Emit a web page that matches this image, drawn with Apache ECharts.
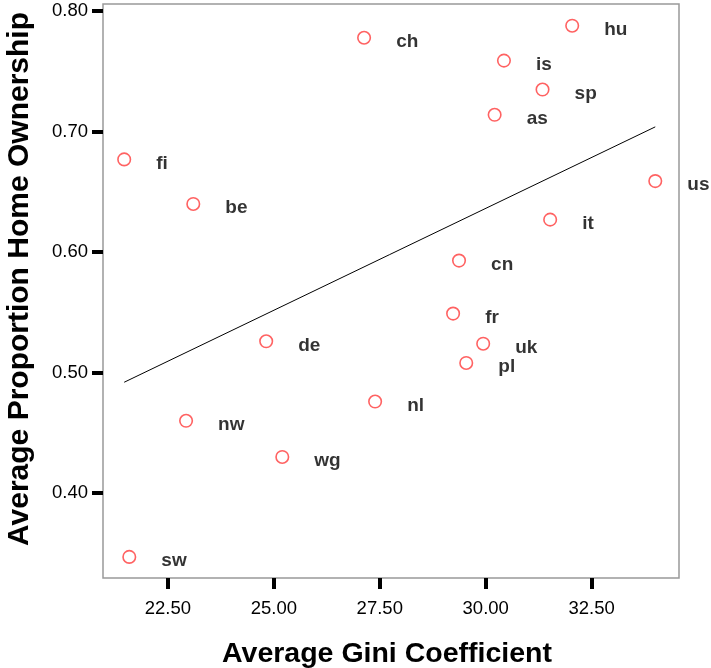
<!DOCTYPE html>
<html>
<head>
<meta charset="utf-8">
<script src="https://cdn.jsdelivr.net/npm/echarts@6/dist/echarts.min.js"></script>
<style>
html, body { margin: 0; padding: 0; background: #fff; }
#chart { width: 711px; height: 668px; }
</style>
</head>
<body>
<div id="chart"></div>
<script>
// countries and their averages
var countries = ['ch','hu','is','sp','as','fi','us','be','it','cn','fr','de','uk','pl','nl','nw','wg','sw'];
var gini = [27.13, 32.04, 30.43, 31.34, 30.21, 21.47, 34.0, 23.10, 31.52, 29.37, 29.23, 24.82, 29.94, 29.54, 27.39, 22.93, 25.20, 21.59];
var ownership = [0.778, 0.788, 0.759, 0.735, 0.714, 0.677, 0.659, 0.640, 0.627, 0.593, 0.549, 0.526, 0.524, 0.508, 0.476, 0.460, 0.430, 0.347];

// fit line ends
var fitX = [21.47, 34.0];
var fitY = [0.492, 0.704];

var xTicks = [22.5, 25, 27.5, 30, 32.5];
var yTicks = [0.4, 0.5, 0.6, 0.7, 0.8];

var pts = [];
for (var i = 0; i < countries.length; i++) {
	pts.push([gini[i], ownership[i], countries[i]]);
}
var fit = [];
for (var j = 0; j < fitX.length; j++) {
	fit.push([fitX[j], fitY[j]]);
}

var font = '"Liberation Sans", Arial, Helvetica, sans-serif';

var option = {
	animation: false,
	backgroundColor: '#fff',
	textStyle: { fontFamily: font },
	grid: {
		left: 103, top: 4, right: 32, bottom: 90,
		outerBoundsMode: 'none',
		containLabel: false,
		show: true, borderColor: '#999', borderWidth: 1.5
	},
	xAxis: {
		type: 'value',
		min: 20.97, max: 34.56,
		name: 'Average Gini Coefficient',
		nameLocation: 'middle',
		nameGap: 62,
		nameTextStyle: { fontSize: 28.5, fontWeight: 'bold', color: '#000', fontFamily: font, padding: [0, 8, 0, 0] },
		axisLine: { show: false },
		splitLine: { show: false },
		axisTick: { show: true, customValues: xTicks, length: 11, lineStyle: { color: '#000', width: 4 } },
		axisLabel: {
			customValues: xTicks, margin: 21, fontSize: 18.5, color: '#000', fontFamily: font,
			formatter: function (v) { return v.toFixed(2); }
		}
	},
	yAxis: {
		type: 'value',
		min: 0.3295, max: 0.806,
		name: 'Average Proportion Home Ownership',
		nameLocation: 'middle',
		nameGap: 68,
		nameTextStyle: { fontSize: 30, fontWeight: 'bold', color: '#000', fontFamily: font, padding: [0, 0, 0, 24] },
		axisLine: { show: false },
		splitLine: { show: false },
		axisTick: { show: true, customValues: yTicks, length: 11, lineStyle: { color: '#000', width: 4 } },
		axisLabel: {
			customValues: yTicks, margin: 15, fontSize: 18.5, color: '#000', fontFamily: font,
			formatter: function (v) { return v.toFixed(2); }
		}
	},
	series: [
		{
			type: 'line',
			data: fit,
			symbol: 'none',
			lineStyle: { color: '#000', width: 1 },
			silent: true
		},
		{
			type: 'scatter',
			data: pts,
			symbol: 'circle',
			symbolSize: 12.5,
			itemStyle: { color: 'rgba(255,255,255,0)', borderColor: '#ff3b3b', borderWidth: 1.6 },
			label: {
				show: true,
				position: 'right',
				distance: 25,
				offset: [0, 4],
				formatter: function (p) { return p.data[2]; },
				fontSize: 19,
				fontWeight: 'bold',
				color: '#000',
				textBorderWidth: 0,
				fontFamily: font
			}
		}
	]
};

var chart = echarts.init(document.getElementById('chart'));
chart.setOption(option);
</script>
</body>
</html>
